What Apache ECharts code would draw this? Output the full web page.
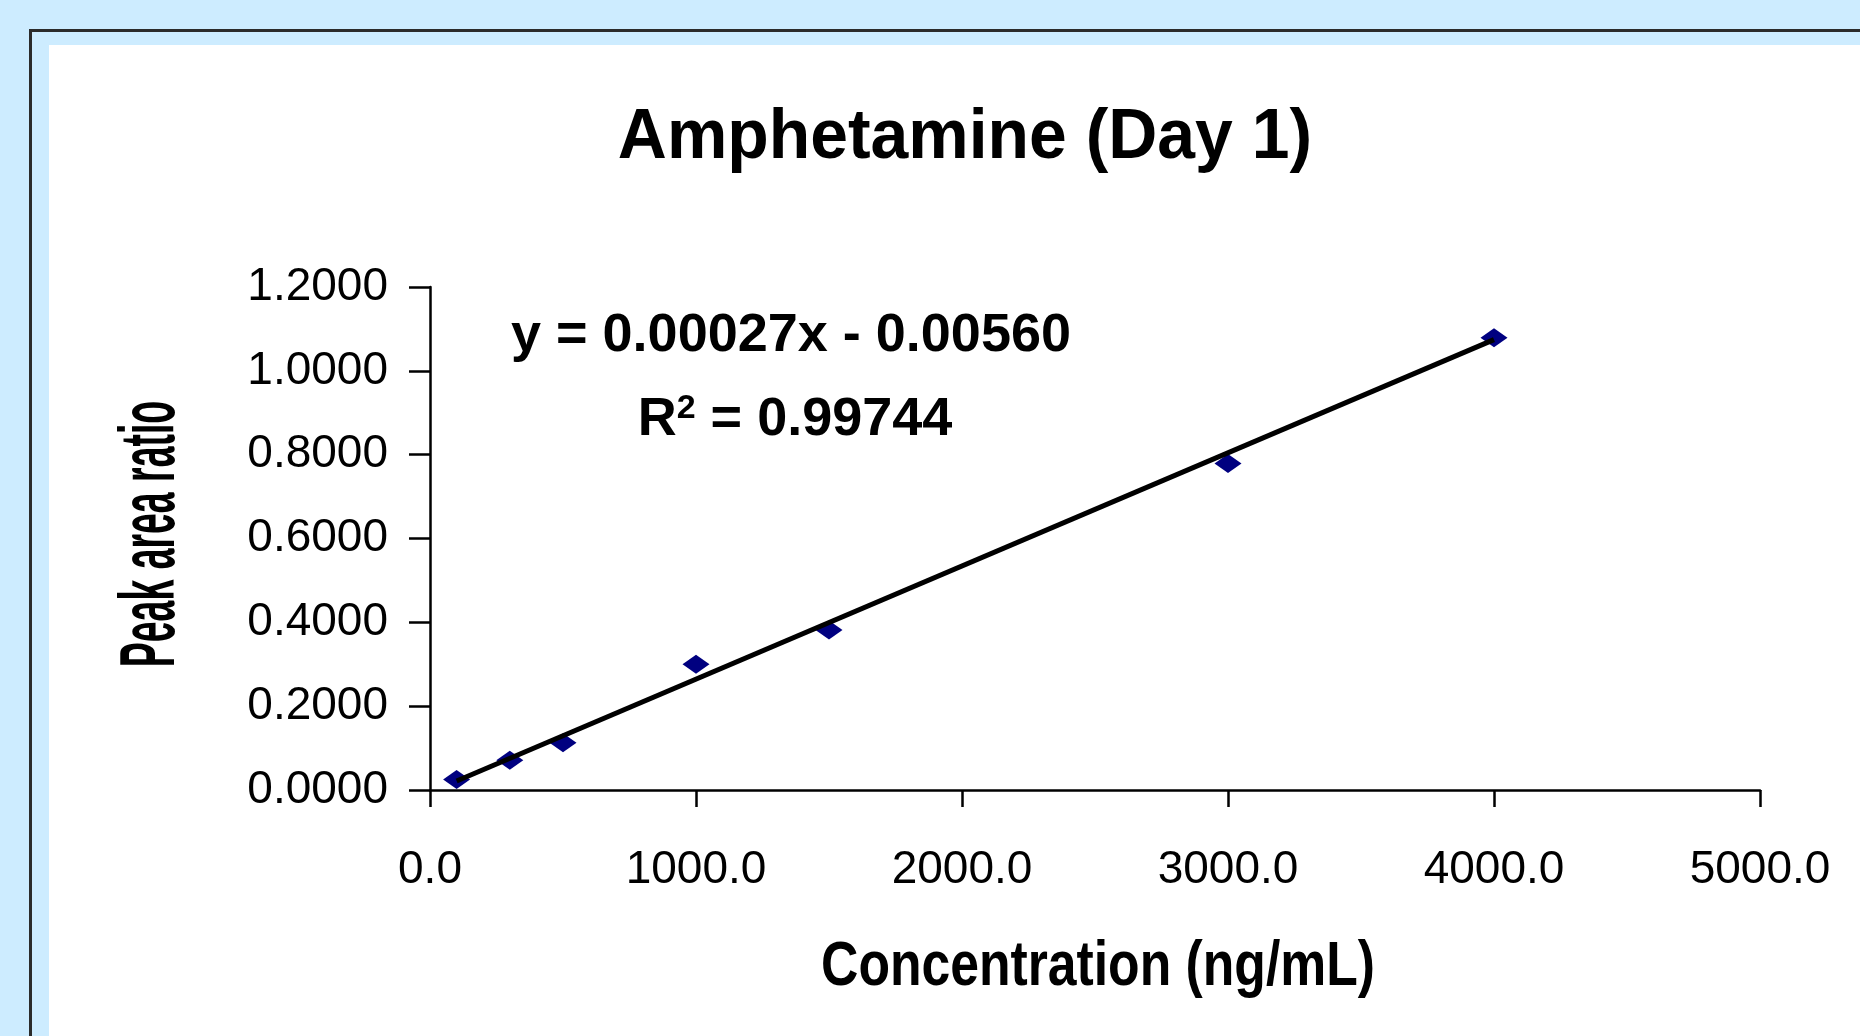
<!DOCTYPE html>
<html>
<head>
<meta charset="utf-8">
<title>Amphetamine (Day 1)</title>
<script src="https://cdn.jsdelivr.net/npm/echarts@6/dist/echarts.min.js"></script>
<style>
    html, body { margin: 0; padding: 0; width: 1860px; height: 1036px; overflow: hidden; background: #cdecff; }
    #frame { position: absolute; left: 29px; top: 29px; width: 1900px; height: 1100px; border-left: 3px solid #2b2b2b; border-top: 3px solid #2b2b2b; }
    #panel { position: absolute; left: 49px; top: 45px; width: 1811px; height: 991px; background: #fff; }
    #main { position: absolute; left: 0; top: 0; width: 1860px; height: 1036px; }
</style>
</head>
<body>
<div id="frame"></div>
<div id="panel"></div>
<div id="main"></div>
<script>
// concentration (ng/mL) and measured peak area ratio
var concentration = [100, 300, 500, 1000, 1500, 3000, 4000];
var peakRatio = [0.025, 0.071, 0.113, 0.300, 0.382, 0.779, 1.079];

// trendline end points
var trendX = [100, 4000];
var trendY = [0.0214, 1.0744];

var equationText = 'y = 0.00027x - 0.00560';
var r2Value = '0.99744';

var font = '"Liberation Sans", Arial, sans-serif';

var points = [];
concentration.forEach(function (c, i) {
    points.push([c, peakRatio[i]]);
});
var trend = [];
trendX.forEach(function (x, i) {
    trend.push([x, trendY[i]]);
});

var myChart = echarts.init(document.getElementById('main'));

var option = {
    backgroundColor: 'transparent',
    animation: false,
    grid: {
        left: 430,
        right: 100,
        top: 287,
        bottom: 246
    },
    xAxis: {
        type: 'value',
        min: 0,
        max: 5000,
        interval: 1000,
        splitLine: { show: false },
        axisLine: { lineStyle: { color: '#000', width: 2.5 } },
        axisTick: { length: 17, lineStyle: { color: '#000', width: 2.5 } },
        axisLabel: {
            margin: 57,
            color: '#000',
            fontSize: 46,
            fontFamily: font,
            formatter: function (v) { return v.toFixed(1); }
        }
    },
    yAxis: {
        type: 'value',
        min: 0,
        max: 1.2,
        interval: 0.2,
        splitLine: { show: false },
        axisLine: { show: true, lineStyle: { color: '#000', width: 2.5 } },
        axisTick: { show: true, length: 21, lineStyle: { color: '#000', width: 2.5 } },
        axisLabel: {
            margin: 42,
            color: '#000',
            fontSize: 46,
            fontFamily: font,
            formatter: function (v) { return v.toFixed(4); }
        }
    },
    graphic: [
        {
            type: 'text',
            x: 965, y: 139,
            scaleX: 0.97,
            style: {
                text: 'Amphetamine (Day 1)',
                font: 'bold 70px ' + font,
                fill: '#000',
                textAlign: 'center',
                textVerticalAlign: 'middle'
            }
        },
        {
            type: 'text',
            x: 1098, y: 968,
            scaleX: 0.82,
            style: {
                text: 'Concentration (ng/mL)',
                font: 'bold 63px ' + font,
                fill: '#000',
                textAlign: 'center',
                textVerticalAlign: 'middle'
            }
        },
        {
            type: 'text',
            x: 152, y: 534,
            rotation: Math.PI / 2,
            scaleX: 0.48,
            style: {
                text: 'Peak area ratio',
                font: 'bold 78px ' + font,
                fill: '#000',
                textAlign: 'center',
                textVerticalAlign: 'middle'
            }
        },
        {
            type: 'text',
            x: 791, y: 336,
            style: {
                text: equationText,
                font: 'bold 54px ' + font,
                fill: '#000',
                textAlign: 'center',
                textVerticalAlign: 'middle'
            }
        },
        {
            type: 'text',
            x: 795, y: 420,
            style: {
                text: '{r|R}{s|2}{r| = ' + r2Value + '}',
                fill: '#000',
                textAlign: 'center',
                textVerticalAlign: 'middle',
                rich: {
                    r: { font: 'bold 54px ' + font, fill: '#000' },
                    s: { font: 'bold 34px ' + font, fill: '#000', padding: [0, 0, 22, 0] }
                }
            }
        }
    ],
    series: [
        {
            type: 'scatter',
            symbol: 'diamond',
            symbolSize: [27, 19],
            itemStyle: { color: '#000080', opacity: 1 },
            z: 2,
            data: points
        },
        {
            type: 'line',
            showSymbol: false,
            symbol: 'none',
            lineStyle: { color: '#000', width: 5 },
            z: 3,
            data: trend
        }
    ]
};

myChart.setOption(option);
</script>
</body>
</html>
